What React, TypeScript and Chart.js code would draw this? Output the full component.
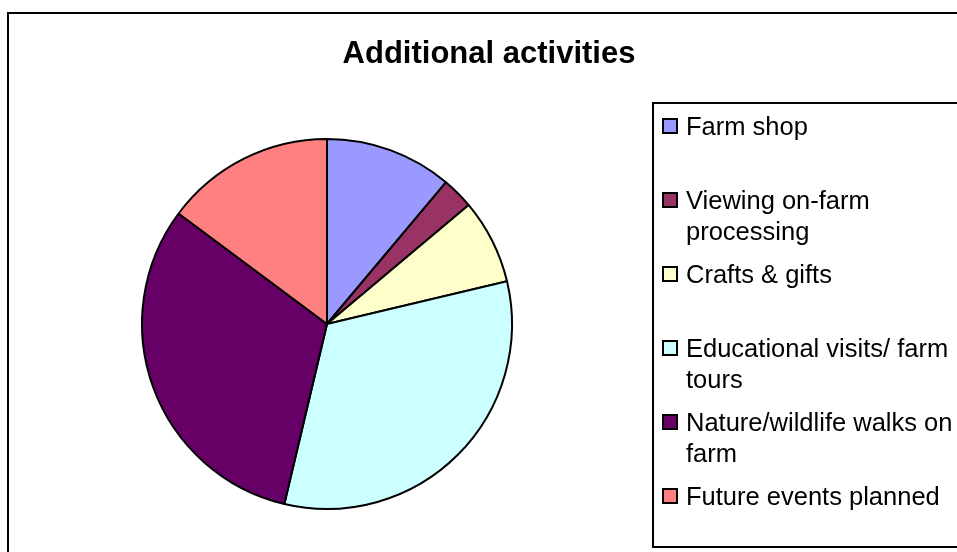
import React, { useEffect, useRef } from "react";
import { Chart, registerables } from "chart.js";

Chart.register(...registerables);

const chartTitle = "Additional activities";
const categories = [
  "Farm shop",
  "Viewing on-farm processing",
  "Crafts & gifts",
  "Educational visits/ farm tours",
  "Nature/wildlife walks on farm",
  "Future events planned",
];
const values = [12, 3, 8, 35, 34, 16];
const sliceColors = ["#9999FF", "#993366", "#FFFFCC", "#CCFFFF", "#660066", "#FF8080"];

const FONT = '"Liberation Sans", Arial, Helvetica, sans-serif';

function wrapText(ctx: CanvasRenderingContext2D, text: string, maxWidth: number): string[] {
  const words = text.split(" ");
  const lines: string[] = [];
  let cur = "";
  for (const w of words) {
    const test = cur ? cur + " " + w : w;
    if (ctx.measureText(test).width > maxWidth && cur) {
      lines.push(cur);
      cur = w;
    } else {
      cur = test;
    }
  }
  if (cur) lines.push(cur);
  return lines;
}

const framePlugin = {
  id: "framePlugin",
  beforeDraw(chart: any) {
    const ctx = chart.ctx as CanvasRenderingContext2D;
    ctx.save();
    ctx.fillStyle = "#ffffff";
    ctx.fillRect(0, 0, chart.width, chart.height);
    ctx.strokeStyle = "#000000";
    ctx.lineWidth = 2;
    ctx.strokeRect(8, 13, 1200, 1200);
    ctx.restore();
  },
  afterDraw(chart: any) {
    const ctx = chart.ctx as CanvasRenderingContext2D;
    ctx.save();
    // title
    ctx.fillStyle = "#000000";
    ctx.font = `bold 31px ${FONT}`;
    ctx.textAlign = "center";
    ctx.textBaseline = "alphabetic";
    ctx.fillText(chartTitle, 489, 63);

    // legend box
    ctx.strokeStyle = "#000000";
    ctx.lineWidth = 2;
    ctx.strokeRect(653, 103, 600, 444);

    const labels = chart.data.labels as string[];
    const bg = chart.data.datasets[0].backgroundColor as string[];
    ctx.font = `25.5px ${FONT}`;
    ctx.textAlign = "left";
    labels.forEach((lab, i) => {
      const cy = 126 + i * 74;
      ctx.fillStyle = bg[i];
      ctx.fillRect(663, cy - 7, 14, 14);
      ctx.strokeStyle = "#000000";
      ctx.lineWidth = 2;
      ctx.strokeRect(663, cy - 7, 14, 14);
      ctx.fillStyle = "#000000";
      const lines = wrapText(ctx, lab, 270);
      lines.forEach((ln, j) => {
        ctx.fillText(ln, 686, cy + 8.7 + j * 31);
      });
    });
    ctx.restore();
  },
};

export default function App() {
  const ref = useRef<HTMLCanvasElement | null>(null);
  useEffect(() => {
    if (!ref.current) return;
    const chart = new Chart(ref.current, {
      type: "pie",
      data: {
        labels: categories,
        datasets: [
          {
            data: values,
            backgroundColor: sliceColors,
            borderColor: "#000000",
            borderWidth: 2,
          },
        ],
      },
      options: {
        responsive: false,
        animation: false,
        events: [],
        radius: 185,
        layout: { padding: { left: 127, right: 430, top: 124, bottom: 28 } },
        plugins: {
          legend: { display: false },
          title: { display: false },
          tooltip: { enabled: false },
        },
      } as any,
      plugins: [framePlugin],
    });
    return () => chart.destroy();
  }, []);
  return (
    <div style={{ position: "absolute", left: 0, top: 0, width: 957, height: 552 }}>
      <canvas ref={ref} width={957} height={552} style={{ display: "block" }} />
    </div>
  );
}
